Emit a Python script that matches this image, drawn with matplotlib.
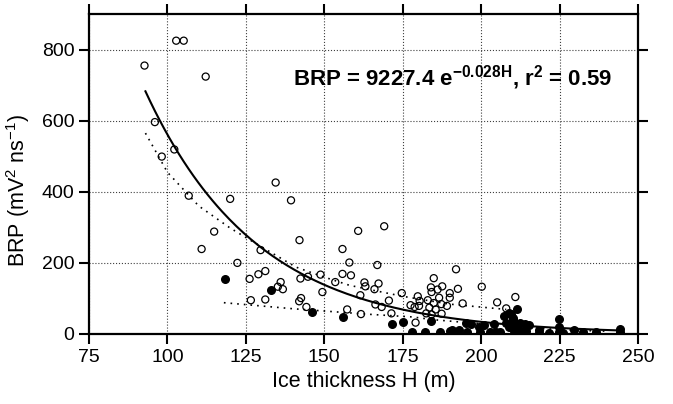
import matplotlib
matplotlib.use("Agg")
import matplotlib.pyplot as plt
import numpy as np

plt.rcParams['font.family'] = ['Liberation Sans', 'DejaVu Sans']
plt.rcParams['mathtext.fontset'] = 'custom'
plt.rcParams['mathtext.rm'] = 'Liberation Sans'
plt.rcParams['mathtext.it'] = 'Liberation Sans'
plt.rcParams['mathtext.bf'] = 'Liberation Sans:bold'

# open circles (H in m, BRP)
open_h = [92.7, 102.8, 105.2, 112.2, 96.0, 102.2, 98.2,
          106.8, 120.0, 114.9, 110.9, 129.7, 122.3, 126.2, 129.0, 131.2, 126.6, 131.2,
          134.5, 139.4, 160.8, 169.1,
          135.2, 136.1, 136.8, 142.1, 142.4, 144.8, 148.8, 149.4, 142.0, 142.6, 144.3,
          155.8, 158.0, 155.8, 158.5, 153.5, 162.8, 163.1, 167.3, 166.9, 166.0, 161.5,
          157.3, 161.7, 166.3, 168.3, 170.6, 174.7, 171.4, 177.5, 178.8, 179.8, 179.1, 180.2,
          192.0, 184.9, 200.2, 192.6, 184.0, 186.1, 187.6, 184.2, 190.0, 186.6, 190.0,
          183.0, 180.4, 184.9, 187.3, 189.1, 194.1, 183.5, 185.5, 187.4, 184.2, 182.5,
          205.1, 210.9, 208.0]
open_brp = [755, 825, 825, 724, 596, 519, 499,
            389, 380, 288, 239, 236, 200, 155, 168, 177, 95, 97,
            426, 376, 290, 303,
            133, 146, 126, 264, 156, 161, 167, 118, 92, 101, 76,
            239, 201, 169, 165, 146, 145, 134, 142, 194, 126, 109,
            69, 56, 83, 76, 94, 115, 58, 81, 76, 106, 32, 79,
            182, 157, 133, 127, 131, 125, 134, 118, 115, 102, 102,
            95, 93, 87, 84, 79, 86, 74, 69, 57, 55, 58,
            89, 104, 72]

# filled circles
fill_h = [118.4, 132.9, 146.1, 156.1, 171.6, 175.1, 177.9, 182.1, 184.1, 187.0,
          190.0, 190.8, 192.9, 195.4, 195.2, 196.8, 199.2, 199.5, 201.0, 202.7,
          204.0, 204.8, 205.9, 207.2, 208.9, 209.6, 211.4, 210.0, 208.0, 210.1,
          209.0, 210.8, 212.3, 211.7, 213.9, 215.2, 210.6, 212.8, 214.4, 218.4,
          218.5, 221.5, 224.8, 224.8, 224.8, 226.0, 229.5, 232.4, 236.5, 244.2, 244.2]
fill_brp = [154, 125, 62, 47, 28, 33, 6, 6, 36, 6,
            8, 10, 10, 5, 30, 27, 20, 6, 25, 6,
            28, 6, 6, 50, 60, 55, 71, 45, 30, 39,
            20, 20, 31, 27, 27, 24, 8, 8, 8, 10,
            4, 4, 41, 20, 6, 4, 12, 6, 6, 13, 6]

# dotted curves
upper_h = [93, 100, 110, 120, 130, 141, 150, 158, 165, 175, 190, 208]
upper_brp = [565, 455, 360, 298, 245, 188, 160, 137, 124, 106, 84, 69]
lower_h = [118, 131, 140, 154, 165, 178, 185, 193, 200, 210, 220, 231, 240]
lower_brp = [88, 78, 71, 62, 55, 48, 40, 34, 29, 22, 15, 10, 8]

# fitted curve BRP = 9227.4 exp(-0.028 H)
fit_a, fit_b = 9227.4, 0.028
fit_h = np.linspace(93, 245, 200)

fig = plt.figure(figsize=(6.73, 4.04), dpi=100)
ax = fig.add_axes([0.1322, 0.1733, 0.8158, 0.792])

ax.grid(True, ls=':', color='0.25', lw=0.8)
ax.set_axisbelow(True)
ax.plot(upper_h, upper_brp, ls=(0, (1, 3)), color='k', lw=1.2)
ax.plot(lower_h, lower_brp, ls=(0, (1, 3)), color='k', lw=1.2)
ax.plot(fit_h, fit_a * np.exp(-fit_b * fit_h), color='k', lw=1.5)
ax.scatter(open_h, open_brp, s=26, facecolors='none', edgecolors='k', linewidths=0.9, zorder=3)
ax.scatter(fill_h, fill_brp, s=30, color='k', zorder=4)

ax.set_xlim(75, 250)
ax.set_ylim(0, 900)
ax.set_xticks(np.arange(75, 251, 25))
ax.set_yticks([0, 200, 400, 600, 800])
ax.tick_params(direction='out', length=7, width=1.5, labelsize=14,
               top=True, right=True)
for sp in ax.spines.values():
    sp.set_linewidth(1.6)

ax.set_xlabel('Ice thickness H (m)', fontsize=15.5)
ax.set_ylabel(r'BRP (mV$^2$ ns$^{-1}$)', fontsize=15.5)
ax.yaxis.set_label_coords(-0.104, 0.45)

ax.text(140, 720, r'BRP = 9227.4 e$^{\mathbf{-0.028H}}$, r$^{\mathbf{2}}$ = 0.59',
        fontsize=16, fontweight='bold', ha='left', va='center')

fig.savefig('out.png', dpi=100)
